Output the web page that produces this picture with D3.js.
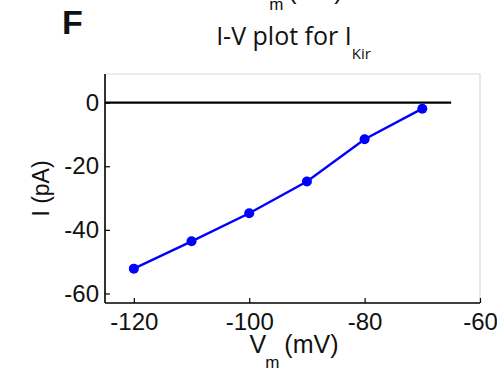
<!DOCTYPE html>
<html>
<head>
<meta charset="utf-8">
<script src="https://cdn.jsdelivr.net/npm/d3@7"></script>
<style>
  html, body { margin: 0; padding: 0; background: #fff; }
  svg { display: block; }
  text { font-family: "Liberation Sans", Arial, sans-serif; fill: #111; }
</style>
</head>
<body>
<svg id="chart" width="497" height="369"></svg>
<script>
// Membrane voltage steps (mV) and the measured Kir current (pA)
const voltages = [-120, -110, -100, -90, -80, -70];
const currents = [-52.2, -43.6, -34.8, -24.8, -11.5, -1.9];
const xTicks = [-120, -100, -80, -60];
const yTicks = [0, -20, -40, -60];
const zeroLine = [-125, -65];

const svg = d3.select("#chart");
const plot = { left: 105, right: 480, top: 74, bottom: 303 };

const x = d3.scaleLinear().domain([-125, -60]).range([plot.left, plot.right]);
const y = d3.scaleLinear().domain([-63, 9]).range([plot.bottom, plot.top]);

// Light frame on the top and right
svg.append("path")
  .attr("d", `M${plot.left},${plot.top}H${plot.right}V${plot.bottom}`)
  .attr("fill", "none").attr("stroke", "#d9d9d9").attr("stroke-width", 1.2);

// Bottom axis, ticks pointing inward
const xAxis = svg.append("g")
  .attr("transform", `translate(0,${plot.bottom})`)
  .call(d3.axisBottom(x).tickValues(xTicks).tickFormat(d => String(d))
    .tickSizeInner(-5).tickSizeOuter(0).tickPadding(10));
// Left axis, ticks pointing inward
const yAxis = svg.append("g")
  .attr("transform", `translate(${plot.left},0)`)
  .call(d3.axisLeft(y).tickValues(yTicks).tickFormat(d => String(d))
    .tickSizeInner(-5).tickSizeOuter(0).tickPadding(6));

[xAxis, yAxis].forEach(g => {
  g.select(".domain").attr("stroke", "#000").attr("stroke-width", 1.6);
  g.selectAll(".tick line").attr("stroke", "#000").attr("stroke-width", 1.2);
  g.selectAll(".tick text")
    .attr("font-family", "Liberation Sans, Arial, sans-serif")
    .attr("font-size", 24).attr("fill", "#111");
});
// Spines run across the whole plotting box
xAxis.select(".domain").attr("d", `M${plot.left},0H${plot.right}`);
yAxis.select(".domain").attr("d", `M0,${plot.top}V${plot.bottom}`);

// Zero-current reference line
svg.append("line")
  .attr("x1", x(zeroLine[0])).attr("x2", x(zeroLine[1]))
  .attr("y1", y(0)).attr("y2", y(0))
  .attr("stroke", "#000").attr("stroke-width", 2.2);

// I-V curve
const pts = voltages.map((v, i) => [v, currents[i]]);
svg.append("path")
  .datum(pts)
  .attr("fill", "none").attr("stroke", "#0000ff").attr("stroke-width", 2.4)
  .attr("d", d3.line().x(d => x(d[0])).y(d => y(d[1])));
svg.selectAll("circle.pt")
  .data(pts).join("circle").attr("class", "pt")
  .attr("cx", d => x(d[0])).attr("cy", d => y(d[1]))
  .attr("r", 5).attr("fill", "#0000ff");

// Panel letter
svg.append("text").attr("x", 62).attr("y", 34)
  .attr("font-size", 34).attr("font-weight", "bold").attr("fill", "#000").text("F");

// Title with subscript
const title = svg.append("text")
  .attr("x", (plot.left + plot.right) / 2 + 1).attr("y", 45)
  .attr("text-anchor", "middle")
  .style("font-family", "'Open Sans', sans-serif").attr("fill", "#222");
title.append("tspan").attr("font-size", 25).text("I-V plot for I");
title.append("tspan").attr("font-size", 15).attr("dy", 14).text("Kir");

// x-axis label
const xl = svg.append("text").attr("x", 294).attr("y", 353).attr("text-anchor", "middle");
xl.append("tspan").attr("font-size", 25).text("V");
xl.append("tspan").attr("font-size", 17).attr("dy", 15).attr("dx", -1).text("m");
xl.append("tspan").attr("font-size", 25).attr("dy", -15).attr("dx", -2).text(" (mV)");

// Label of the panel above, cut by the top edge
const xlTop = svg.append("text").attr("x", 298).attr("y", -1).attr("text-anchor", "middle");
xlTop.append("tspan").attr("font-size", 25).text("V");
xlTop.append("tspan").attr("font-size", 17).attr("dy", 11).attr("dx", -1).text("m");
xlTop.append("tspan").attr("font-size", 25).attr("dy", -11).attr("dx", -2).text(" (mV)");

// y-axis label
svg.append("text")
  .attr("transform", `translate(49,${(plot.top + plot.bottom) / 2}) rotate(-90)`)
  .attr("text-anchor", "middle").attr("font-size", 23).text("I (pA)");
</script>
</body>
</html>
